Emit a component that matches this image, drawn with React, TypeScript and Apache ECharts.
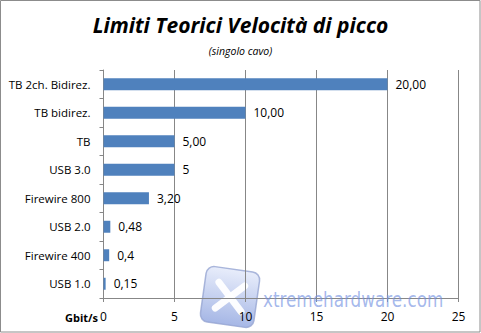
import React, { useEffect, useRef } from "react";
import * as echarts from "echarts";

// Interfaces, top to bottom
const categories = [
  "TB 2ch. Bidirez.",
  "TB bidirez.",
  "TB",
  "USB 3.0",
  "Firewire 800",
  "USB 2.0",
  "Firewire 400",
  "USB 1.0",
];
// Peak speed in Gbit/s
const speeds = [20, 10, 5, 5, 3.2, 0.48, 0.4, 0.15];
// Decimal places shown in each value label
const labelDecimals = [2, 2, 2, 0, 2, 2, 1, 2];
const xTicks = { min: 0, max: 25, interval: 5 };

const FONT = "'Open Sans', 'Liberation Sans', sans-serif";
const GRID_COLOR = "#878787";

export default function App() {
  const ref = useRef<HTMLDivElement>(null);

  useEffect(() => {
    document.body.style.margin = "0";
    const chart = echarts.init(ref.current!, undefined, { renderer: "svg" });
    chart.setOption({
      animation: false,
      backgroundColor: "#ffffff",
      title: [
        {
          text: "Limiti Teorici Velocità di picco",
          left: "center",
          top: 9,
          textStyle: {
            fontFamily: FONT,
            fontSize: 21,
            fontWeight: "bold",
            fontStyle: "italic",
            color: "#000",
          },
        },
        {
          text: "(singolo cavo)",
          left: "center",
          top: 40,
          textStyle: {
            fontFamily: FONT,
            fontSize: 10.5,
            fontWeight: "normal",
            fontStyle: "italic",
            color: "#000",
          },
        },
      ],
      grid: { left: 103.5, right: 22.5, top: 70, bottom: 35, containLabel: false },
      xAxis: {
        type: "value",
        min: xTicks.min,
        max: xTicks.max,
        interval: xTicks.interval,
        axisLine: { show: true, lineStyle: { color: GRID_COLOR, width: 1 } },
        axisTick: { show: true, length: 4, lineStyle: { color: GRID_COLOR } },
        splitLine: { show: true, lineStyle: { color: GRID_COLOR, width: 1 } },
        axisLabel: { fontFamily: FONT, fontSize: 12, color: "#000", margin: 12 },
      },
      yAxis: {
        type: "category",
        data: categories,
        inverse: true,
        axisLine: { show: true, lineStyle: { color: GRID_COLOR, width: 1 } },
        axisTick: { show: true, length: 4, lineStyle: { color: GRID_COLOR } },
        axisLabel: { fontFamily: FONT, fontSize: 11.5, color: "#000", margin: 13 },
      },
      series: [
        {
          type: "bar",
          data: speeds,
          barWidth: "42%",
          itemStyle: { color: "#4F81BD" },
          label: {
            show: true,
            position: "right",
            distance: 8,
            fontFamily: FONT,
            fontSize: 12,
            color: "#000",
            formatter: (p: any) =>
              speeds[p.dataIndex].toFixed(labelDecimals[p.dataIndex]).replace(".", ","),
          },
        },
      ],
      graphic: [
        // Outer frame
        {
          type: "rect",
          shape: { x: 0.5, y: 0.5, width: 479.5, height: 331.5 },
          style: { fill: "none", stroke: "#8c8c8c", lineWidth: 1 },
          z: 10,
        },
        // Axis unit
        {
          type: "text",
          x: 65,
          y: 317,
          style: {
            text: "Gbit/s",
            fontFamily: FONT,
            fontSize: 11,
            fontWeight: "bold",
            fill: "#000",
            verticalAlign: "middle",
          },
        },
        // Site watermark
        {
          type: "group",
          x: 230,
          y: 297,
          rotation: -0.14,
          z: 20,
          children: [
            {
              type: "rect",
              shape: { x: -27, y: -28, width: 54, height: 56, r: 8 },
              style: {
                fill: {
                  type: "linear",
                  x: 0,
                  y: 0,
                  x2: 0,
                  y2: 1,
                  colorStops: [
                    { offset: 0, color: "rgba(228,234,250,0.85)" },
                    { offset: 1, color: "rgba(150,170,225,0.85)" },
                  ],
                },
                stroke: "rgba(150,165,210,0.8)",
                lineWidth: 1.5,
              },
            },
            {
              type: "line",
              shape: { x1: -13, y1: -13, x2: 13, y2: 13 },
              style: { stroke: "rgba(255,255,255,0.95)", lineWidth: 7, lineCap: "round" },
            },
            {
              type: "line",
              shape: { x1: 13, y1: -13, x2: -13, y2: 13 },
              style: { stroke: "rgba(255,255,255,0.95)", lineWidth: 7, lineCap: "round" },
            },
          ],
        },
        {
          type: "text",
          x: 263,
          y: 289,
          scaleX: 0.8,
          z: 20,
          style: {
            text: "xtremehardware.com",
            fontFamily: "'DejaVu Sans', sans-serif",
            fontSize: 21,
            fill: "rgba(115,145,225,0.65)",
          },
        },
      ],
    });
    return () => chart.dispose();
  }, []);

  return <div ref={ref} style={{ width: 481, height: 333 }} />;
}
